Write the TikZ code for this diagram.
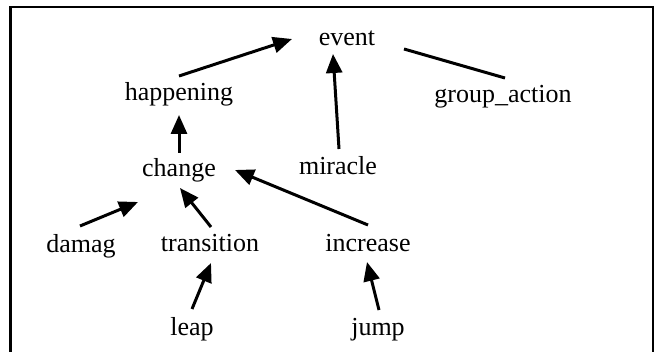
\documentclass[tikz,border=0pt]{standalone}
\usepackage{fontspec}
\setmainfont{Liberation Serif}
\usetikzlibrary{arrows.meta}
\begin{document}
\begin{tikzpicture}[x=1pt,y=1pt,
  word/.style={anchor=base,inner sep=0pt,font=\fontsize{26}{30}\selectfont},
  isa/.style={line width=3pt,-{Triangle[length=19pt,width=16pt]}},
  link/.style={line width=3pt}]
\useasboundingbox (0,0) rectangle (655,-352);
\clip (0,0) rectangle (655,-352);
% frame, open at the bottom edge
\draw[line width=2.5pt] (10.5,-400) -- (10.5,-7) -- (653,-7) -- (653,-400);

% terms
\node[word] (event) at (347,-46) {event};
\node[word] (happening) at (179,-101) {happening};
\node[word] (group) at (503,-103) {group\_action};
\node[word] (change) at (179,-177) {change};
\node[word] (miracle) at (338,-175) {miracle};
\node[word] (damag) at (81,-253) {damag};
\node[word] (transition) at (210,-252) {transition};
\node[word] (increase) at (368,-252) {increase};
\node[word] (leap) at (192,-335) {leap};
\node[word] (jump) at (378,-335) {jump};

% relations
\draw[isa] ([shift={(0,25)}]happening.base) -- ([shift={(-55,7)}]event.base);
\draw[isa] ([shift={(1,26)}]miracle.base) -- ([shift={(-14,-8)}]event.base);
\draw[link] ([shift={(57,-3)}]event.base) -- ([shift={(2,25)}]group.base);
\draw[isa] ([shift={(0,24)}]change.base) -- ([shift={(0,-14)}]happening.base);
\draw[isa] ([shift={(-1,27)}]damag.base) -- ([shift={(-41,-25)}]change.base);
\draw[isa] ([shift={(1,25)}]transition.base) -- ([shift={(1,-11)}]change.base);
\draw[isa] ([shift={(0,27)}]increase.base) -- ([shift={(56,7)}]change.base);
\draw[isa] ([shift={(0,26)}]leap.base) -- ([shift={(1,-11)}]transition.base);
\draw[isa] ([shift={(1,25)}]jump.base) -- ([shift={(-1,-10)}]increase.base);
\end{tikzpicture}
\end{document}
